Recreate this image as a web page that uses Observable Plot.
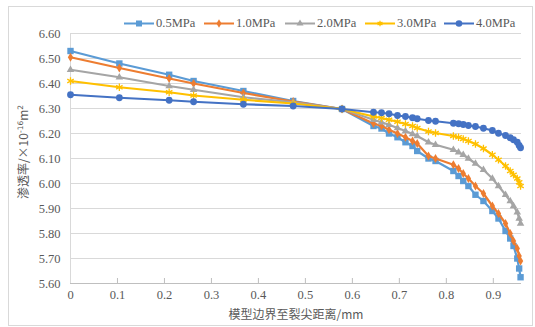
<!DOCTYPE html>
<html><head><meta charset="utf-8">
<script src="https://cdn.jsdelivr.net/npm/d3@7"></script>
<script src="https://cdn.jsdelivr.net/npm/@observablehq/plot@0.6"></script>
<style>
body{margin:0;background:#fff;}
#wrap{position:relative;width:535px;height:327px;overflow:hidden;}
#frame{position:absolute;left:8px;top:6px;width:523px;height:318px;border:1px solid #d9d9d9;pointer-events:none;}
#legend{height:28px;position:relative;font-family:"Liberation Serif",serif;font-size:12.5px;color:#595959;}
.li{position:absolute;top:23px;display:flex;align-items:center;transform:translateY(-50%);}
#chart svg{overflow:visible;}
#ytitle{position:absolute;left:22px;top:152px;transform:translate(-50%,-50%) rotate(-90deg);white-space:nowrap;font-family:"Noto Sans CJK SC",sans-serif;font-size:12px;color:#595959;}
#ytitle sup{font-family:"DejaVu Sans",sans-serif;font-size:7.5px;vertical-align:5px;line-height:0;}
</style></head>
<body><div id="wrap"><div id="frame"></div><div id="legend"></div><div id="chart"></div><div id="ytitle"></div></div>
<script>
const xs = [0, 0.104, 0.21, 0.262, 0.368, 0.474, 0.578, 0.645, 0.662, 0.678, 0.696, 0.713, 0.728, 0.738, 0.762, 0.777, 0.815, 0.826, 0.836, 0.847, 0.862, 0.879, 0.898, 0.911, 0.926, 0.936, 0.943, 0.951, 0.955, 0.958];
const seriesNames = ["0.5MPa", "1.0MPa", "2.0MPa", "3.0MPa", "4.0MPa"];
const colors = ["#5B9BD5", "#ED7D31", "#A5A5A5", "#FFC000", "#4472C4"];
const symbols = ["square", "diamond", "triangle", "asterisk", "circle"];
const v05 = [6.53, 6.48, 6.435, 6.41, 6.37, 6.33, 6.298, 6.23, 6.22, 6.20, 6.185, 6.165, 6.15, 6.13, 6.10, 6.09, 6.05, 6.03, 6.01, 5.99, 5.955, 5.93, 5.89, 5.86, 5.81, 5.78, 5.75, 5.70, 5.66, 5.625];
const v10 = [6.505, 6.462, 6.42, 6.40, 6.362, 6.328, 6.298, 6.24, 6.23, 6.215, 6.20, 6.185, 6.17, 6.16, 6.11, 6.10, 6.075, 6.06, 6.04, 6.02, 5.99, 5.96, 5.91, 5.88, 5.84, 5.80, 5.77, 5.74, 5.71, 5.69];
const v20 = [6.455, 6.425, 6.39, 6.375, 6.345, 6.325, 6.298, 6.255, 6.245, 6.235, 6.222, 6.21, 6.198, 6.19, 6.165, 6.155, 6.135, 6.125, 6.115, 6.10, 6.08, 6.055, 6.02, 5.99, 5.955, 5.93, 5.91, 5.885, 5.86, 5.84];
const v30 = [6.41, 6.385, 6.365, 6.352, 6.335, 6.32, 6.298, 6.268, 6.262, 6.255, 6.247, 6.238, 6.23, 6.222, 6.208, 6.202, 6.19, 6.185, 6.178, 6.17, 6.158, 6.14, 6.115, 6.095, 6.07, 6.05, 6.035, 6.02, 6.005, 5.99];
const v40 = [6.355, 6.343, 6.333, 6.327, 6.317, 6.31, 6.298, 6.285, 6.283, 6.279, 6.272, 6.268, 6.263, 6.259, 6.252, 6.249, 6.241, 6.239, 6.236, 6.232, 6.228, 6.221, 6.212, 6.201, 6.192, 6.183, 6.175, 6.165, 6.152, 6.143];
const xTicks = [0, 0.1, 0.2, 0.3, 0.4, 0.5, 0.6, 0.7, 0.8, 0.9];
const xTickLabels = ["0", "0.1", "0.2", "0.3", "0.4", "0.5", "0.6", "0.7", "0.8", "0.9"];
const yTicks = [5.6, 5.7, 5.8, 5.9, 6.0, 6.1, 6.2, 6.3, 6.4, 6.5, 6.6];
const xTitle = "模型边界至裂尖距离/mm";
const yTitleMain = "渗透率/×10";
const yTitleSup = "-16";
const yTitleUnit = "m";
const yTitleUnitSup = "2";

const allValues = [v05, v10, v20, v30, v40];
const data = [];
allValues.forEach((vals, i) => vals.forEach((v, j) => data.push({s: seriesNames[i], x: xs[j], y: v})));

const marks = [
  Plot.ruleY(yTicks.filter(t => t > 5.6), {stroke: "#d9d9d9", strokeWidth: 1}),
  Plot.ruleY([5.6], {stroke: "#bfbfbf", strokeWidth: 1}),
  Plot.ruleX([0], {stroke: "#d9d9d9", strokeWidth: 1}),
  Plot.ruleX(xTicks.slice(1), {y1: 5.6, y2: 5.62, stroke: "#bfbfbf"}),
  Plot.axisX(xTicks, {tickSize: 0, tickPadding: 7, tickFormat: (d, i) => xTickLabels[i], fontSize: 12.5, fill: "#595959", label: null}),
  Plot.axisY(yTicks, {tickSize: 0, tickPadding: 10, tickFormat: d => d.toFixed(2), fontSize: 12.5, fill: "#595959", label: null})
];
seriesNames.forEach((name, i) => {
  const d = data.filter(r => r.s === name);
  marks.push(Plot.line(d, {x: "x", y: "y", stroke: colors[i], strokeWidth: 2.2}));
  if (symbols[i] === "asterisk") {
    marks.push(Plot.dot(d, {x: "x", y: "y", symbol: "asterisk", stroke: colors[i], strokeWidth: 1.3, r: 3.5}));
  } else {
    const r = symbols[i] === "square" ? 3.6 : symbols[i] === "circle" ? 3.4 : 2.8;
    marks.push(Plot.dot(d, {x: "x", y: "y", symbol: symbols[i], fill: colors[i], stroke: "none", r}));
  }
});
marks.push(Plot.text([xTitle], {frameAnchor: "bottom", dy: 35, fontFamily: "Noto Sans CJK SC", fontSize: 12, fill: "#595959"}));

const chart = Plot.plot({
  width: 535, height: 299,
  marginLeft: 70, marginRight: 14, marginTop: 5, marginBottom: 44,
  x: {domain: [0, 0.96]},
  y: {domain: [5.6, 6.6]},
  style: {background: "transparent", fontFamily: "Liberation Serif"},
  marks
});
document.getElementById("chart").appendChild(chart);

document.getElementById("ytitle").innerHTML = `${yTitleMain}<sup>${yTitleSup}</sup>${yTitleUnit}<sup>${yTitleUnitSup}</sup>`;

// legend
const legendX = [124, 204, 285, 365, 444];
const leg = document.getElementById("legend");
seriesNames.forEach((name, i) => {
  const item = document.createElement("div");
  item.className = "li";
  item.style.left = legendX[i] + "px";
  const t = symbols[i];
  const sym = d3.symbol(t === "square" ? d3.symbolSquare : t === "diamond" ? d3.symbolDiamond : t === "triangle" ? d3.symbolTriangle : t === "asterisk" ? d3.symbolAsterisk : d3.symbolCircle, t === "square" ? 36 : t === "circle" ? 34 : 22)();
  const isStroke = t === "asterisk";
  item.innerHTML = `<svg width="30" height="10" style="margin-right:2px"><line x1="0" x2="30" y1="5" y2="5" stroke="${colors[i]}" stroke-width="2.2"/><path transform="translate(15,5)" d="${sym}" fill="${isStroke ? "none" : colors[i]}" stroke="${isStroke ? colors[i] : "none"}" stroke-width="1.3"/></svg><span>${name}</span>`;
  leg.appendChild(item);
});
</script></body></html>
